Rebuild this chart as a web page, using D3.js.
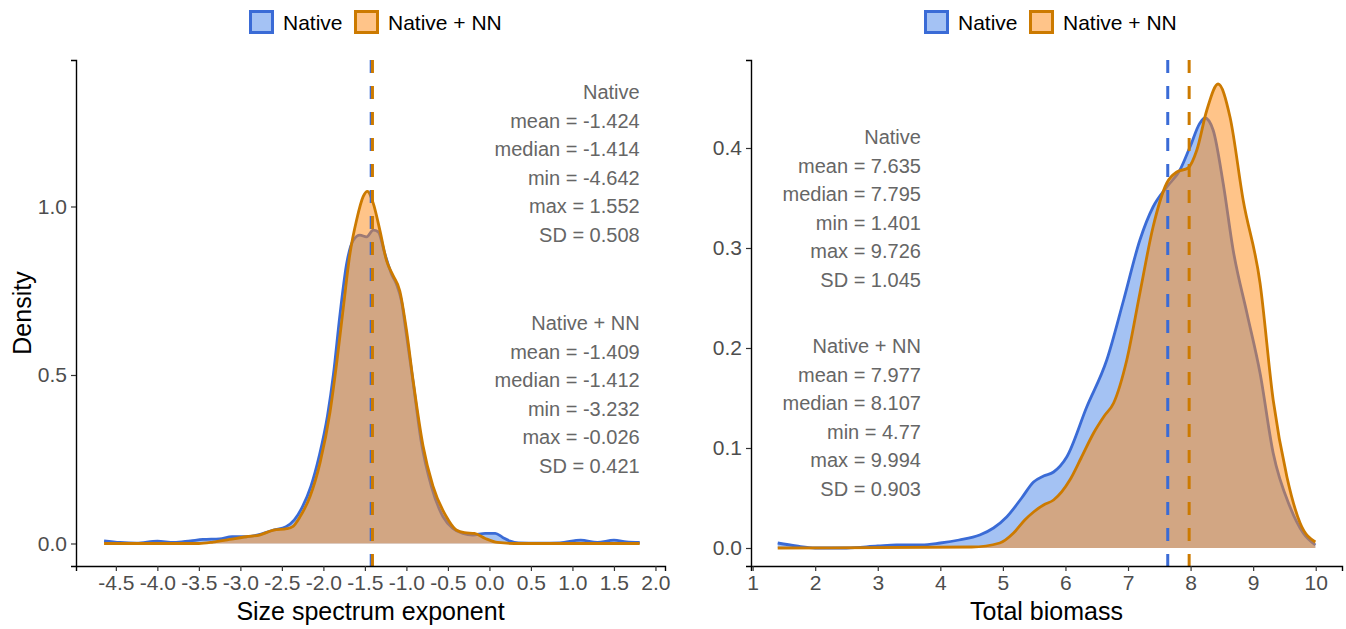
<!DOCTYPE html>
<html>
<head>
<meta charset="utf-8">
<script src="https://cdn.jsdelivr.net/npm/d3@7"></script>
<style>
  body { margin: 0; background: #fff; }
  svg text { font-family: "Liberation Sans", Arial, sans-serif; }
</style>
</head>
<body>
<svg id="chart" width="1346" height="629"></svg>
<script>
// ---- data ----
const groups = ["Native", "Native + NN"];

// size spectrum exponent densities
const slopeNativeX = [-4.642,-4.45,-4.25,-4.0,-3.8,-3.6,-3.45,-3.25,-3.1,-2.93,-2.75,-2.6,-2.45,-2.35,-2.25,-2.15,-2.05,-1.95,-1.88,-1.8,-1.72,-1.64,-1.56,-1.48,-1.4,-1.34,-1.26,-1.18,-1.12,-1.06,-1.0,-0.92,-0.82,-0.7,-0.56,-0.44,-0.32,-0.2,-0.05,0.07,0.16,0.25,0.35,0.6,0.85,1.1,1.3,1.5,1.65,1.81];
const slopeNativeY = [0.008,0.003,0.001,0.007,0.003,0.008,0.012,0.014,0.02,0.02,0.028,0.04,0.05,0.07,0.11,0.17,0.26,0.38,0.5,0.68,0.83,0.9,0.915,0.91,0.93,0.925,0.86,0.8,0.77,0.72,0.62,0.48,0.3,0.17,0.08,0.045,0.03,0.025,0.03,0.03,0.018,0.007,0.002,0.001,0.002,0.01,0.003,0.01,0.005,0.003];
const slopeNNX = [-4.642,-3.5,-3.33,-3.13,-2.93,-2.77,-2.6,-2.44,-2.37,-2.28,-2.16,-2.04,-1.92,-1.84,-1.76,-1.68,-1.6,-1.52,-1.47,-1.4,-1.32,-1.24,-1.16,-1.08,-1.0,-0.92,-0.8,-0.68,-0.52,-0.4,-0.3,-0.18,-0.05,0.1,0.3,1.81];
const slopeNNY = [0,0,0.004,0.012,0.02,0.025,0.04,0.044,0.05,0.08,0.14,0.24,0.39,0.535,0.7,0.86,0.96,1.03,1.045,1.01,0.93,0.84,0.795,0.75,0.635,0.485,0.29,0.17,0.08,0.04,0.032,0.03,0.015,0.003,0,0];

// total biomass densities
const bioNativeX = [1.401,1.7,2.0,2.5,3.0,3.3,3.7,4.0,4.3,4.63,4.85,5.06,5.3,5.49,5.65,5.81,6.02,6.34,6.66,6.93,7.19,7.4,7.62,7.83,7.99,8.15,8.23,8.36,8.52,8.68,8.9,9.11,9.32,9.59,9.8,9.994];
const bioNativeY = [0.005,0.002,0,0,0.002,0.003,0.003,0.005,0.008,0.013,0.02,0.031,0.05,0.066,0.072,0.076,0.091,0.141,0.188,0.248,0.308,0.341,0.361,0.378,0.401,0.425,0.43,0.418,0.365,0.298,0.235,0.175,0.095,0.041,0.015,0.003];
const bioNNX = [1.401,4.5,4.95,5.17,5.35,5.49,5.65,5.81,6.07,6.25,6.45,6.62,6.77,6.98,7.19,7.4,7.62,7.78,7.96,8.1,8.26,8.44,8.63,8.84,9.11,9.32,9.54,9.75,9.994];
const bioNNY = [0,0.001,0.005,0.015,0.028,0.036,0.043,0.048,0.068,0.09,0.115,0.132,0.145,0.188,0.255,0.321,0.365,0.376,0.38,0.398,0.438,0.464,0.431,0.348,0.265,0.148,0.071,0.025,0.006];

const slopeMeans = [-1.424, -1.409];
const bioMeans = [7.635, 7.977];

const slopeStats = [
  ["Native", "mean = -1.424", "median = -1.414", "min = -4.642", "max = 1.552", "SD = 0.508"],
  ["Native + NN", "mean = -1.409", "median = -1.412", "min = -3.232", "max = -0.026", "SD = 0.421"]
];
const bioStats = [
  ["Native", "mean = 7.635", "median = 7.795", "min = 1.401", "max = 9.726", "SD = 1.045"],
  ["Native + NN", "mean = 7.977", "median = 8.107", "min = 4.77", "max = 9.994", "SD = 0.903"]
];

const slopeTicks = d3.range(-4.5, 2.01, 0.5);
const bioTicks = d3.range(1, 11, 1);

const lineCol = ["#3A6BD6", "#CC7A00"];
const fillCol = ["#4A86E8", "#FF8A14"];
const legendFill = ["#A4C2F4", "#FFC489"];

const svg = d3.select("#chart");
const fmt1 = d => d3.format(".1f")(d).replace("\u2212", "-");

function drawPanel(p) {
  const x = d3.scaleLinear().domain(p.xDomain).range(p.xRange);
  const y = d3.scaleLinear().domain(p.yDomain).range([566, 60]);
  const g = svg.append("g");

  const series = [
    d3.zip(p.xs[0], p.ys[0]),
    d3.zip(p.xs[1], p.ys[1])
  ];

  const area = d3.area().x(d => x(d[0])).y0(y(0)).y1(d => y(d[1])).curve(d3.curveMonotoneX);
  const line = d3.line().x(d => x(d[0])).y(d => y(d[1])).curve(d3.curveMonotoneX);

  series.forEach((s, i) => {
    g.append("path").attr("d", area(s))
      .attr("fill", fillCol[i]).attr("fill-opacity", 0.5);
    g.append("path").attr("d", line(s))
      .attr("fill", "none").attr("stroke", lineCol[i]).attr("stroke-width", 2.8)
      .attr("stroke-linejoin", "round");
  });

  // mean lines
  p.means.forEach((m, i) => {
    g.append("line")
      .attr("x1", x(m)).attr("x2", x(m))
      .attr("y1", 60).attr("y2", 566)
      .attr("stroke", lineCol[i]).attr("stroke-width", 3)
      .attr("stroke-dasharray", "13,13");
  });

  // stats text
  p.stats.forEach((block, b) => {
    block.forEach((t, k) => {
      g.append("text")
        .attr("x", x(p.textX))
        .attr("y", y(p.textY[b]) + k * 28.6)
        .attr("text-anchor", "end")
        .attr("dominant-baseline", "central")
        .attr("fill", "#666666")
        .style("font-size", "20px")
        .text(t);
    });
  });

  // axes
  const xAxis = g.append("g").attr("transform", "translate(0,566)")
    .call(d3.axisBottom(x).tickValues(p.xTicks).tickFormat(p.xFmt).tickSizeOuter(0).tickSize(5).tickPadding(4));
  const yAxis = g.append("g").attr("transform", `translate(${p.xRange[0]},0)`)
    .call(d3.axisLeft(y).tickValues(p.yTicks).tickFormat(fmt1).tickSizeOuter(0).tickSize(5).tickPadding(4));
  [xAxis, yAxis].forEach(a => {
    a.select(".domain").attr("stroke", "#000").attr("stroke-width", 1.4);
    a.selectAll(".tick line").attr("stroke", "#333").attr("stroke-width", 1.2);
    a.selectAll(".tick text").attr("fill", "#4D4D4D").style("font-size", "21px");
  });

  g.append("text")
    .attr("x", (p.xRange[0] + p.xRange[1]) / 2).attr("y", 620)
    .attr("text-anchor", "middle").style("font-size", "25px").attr("fill", "#000")
    .text(p.xTitle);

  if (p.yTitle) {
    g.append("text")
      .attr("transform", `translate(31,313) rotate(-90)`)
      .attr("text-anchor", "middle").style("font-size", "25px").attr("fill", "#000")
      .text(p.yTitle);
  }

  // legend
  const lg = g.append("g").attr("transform", `translate(${p.legendX},0)`);
  const keyX = [0, 105];
  groups.forEach((name, i) => {
    lg.append("rect").attr("x", keyX[i] + 1.5).attr("y", 11.5).attr("width", 22).attr("height", 21)
      .attr("fill", legendFill[i]).attr("stroke", lineCol[i]).attr("stroke-width", 3);
    lg.append("text").attr("x", keyX[i] + 34).attr("y", 29.5)
      .style("font-size", "21px").attr("fill", "#000").text(name);
  });
}

drawPanel({
  xs: [slopeNativeX, slopeNNX], ys: [slopeNativeY, slopeNNY],
  xDomain: [-4.98, 2.115], xRange: [76, 665],
  yDomain: [-0.0668, 1.4347],
  xTicks: slopeTicks, xFmt: fmt1, yTicks: [0, 0.5, 1.0],
  means: slopeMeans, stats: slopeStats,
  textX: 1.81, textY: [1.34, 0.654],
  xTitle: "Size spectrum exponent", yTitle: "Density",
  legendX: 249
});

drawPanel({
  xs: [bioNativeX, bioNNX], ys: [bioNativeY, bioNNY],
  xDomain: [0.974, 10.42], xRange: [751, 1342],
  yDomain: [-0.018, 0.488],
  xTicks: bioTicks, xFmt: d3.format("d"), yTicks: [0, 0.1, 0.2, 0.3, 0.4],
  means: bioMeans, stats: bioStats,
  textX: 3.69, textY: [0.411, 0.202],
  xTitle: "Total biomass", yTitle: null,
  legendX: 924
});
</script>
</body>
</html>
